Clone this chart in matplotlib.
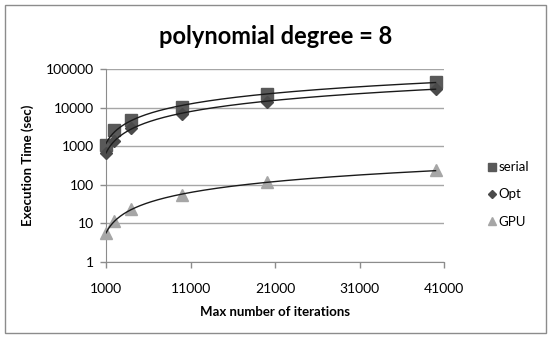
import numpy as np
import matplotlib
matplotlib.use("Agg")
import matplotlib.pyplot as plt
from matplotlib.patches import FancyBboxPatch

# data
iterations = [1000, 2000, 4000, 10000, 20000, 40000]
serial = [1100, 2600, 4700, 10500, 23000, 45000]
opt = [650, 1400, 2900, 7000, 14000, 31000]
gpu = [5.6, 11.7, 23, 55, 117, 235]
series_names = ["serial", "Opt", "GPU"]
x_ticks = [1000, 11000, 21000, 31000, 41000]
y_ticks = [1, 10, 100, 1000, 10000, 100000]

plt.rcParams['font.family'] = ['Lato', 'DejaVu Sans']

fig = plt.figure(figsize=(5.52, 3.38), dpi=100)
ax = fig.add_axes([106/552, 1-262/338, (444-106)/552, (262-69)/338])

# chart area border
fig.patches.append(FancyBboxPatch((5/552, 5/338), 541/552, 328/338,
                                  boxstyle="square,pad=0", transform=fig.transFigure,
                                  fill=False, edgecolor="#8c8c8c", linewidth=1.0))

styles = [("s", "#595959", 8), ("D", "#4a4a4a", 6), ("^", "#a6a6a6", 8)]
xs = np.array(iterations, dtype=float)
xfit = np.linspace(1000, 40000, 300)
for vals, name, (mk, col, ms) in zip([serial, opt, gpu], series_names, styles):
    ax.plot(xs, vals, linestyle="none", marker=mk, color=col, markersize=ms,
            label=name, zorder=3, clip_on=False)
    # power trendline
    b, a = np.polyfit(np.log(xs), np.log(vals), 1)
    ax.plot(xfit, np.exp(a) * xfit ** b, color="#1a1a1a", linewidth=1.0, zorder=4)

ax.set_yscale("log")
ax.set_ylim(1, 100000)
ax.set_xlim(1000, 41000)
ax.set_xticks(x_ticks)
ax.set_xticklabels([str(t) for t in x_ticks])
ax.set_yticks(y_ticks)
ax.set_yticklabels([str(t) for t in y_ticks])
ax.minorticks_off()
ax.tick_params(axis="both", labelsize=10, color="#8c8c8c", length=4, width=1)
ax.tick_params(axis="x", pad=11)
ax.tick_params(axis="y", pad=5)
ax.grid(axis="y", color="#a6a6a6", linewidth=1.0)
for s in ["top", "right"]:
    ax.spines[s].set_visible(False)
for s in ["left", "bottom"]:
    ax.spines[s].set_color("#8c8c8c")

ax.set_xlabel("Max number of iterations", fontsize=9.5, fontweight="bold", labelpad=8)
ax.set_ylabel("Execution Time (sec)", fontsize=9.5, fontweight="bold", labelpad=8)
fig.text(0.5, 1-37/338, "polynomial degree = 8", fontsize=17, fontweight="bold",
         ha="center", va="center")

ax.legend(loc="center left", bbox_to_anchor=(1.095, 0.35), frameon=False,
          fontsize=9.5, handlelength=0.6, handletextpad=0.2, labelspacing=1.15,
          markerscale=0.75)

fig.savefig("out.png", dpi=100)
